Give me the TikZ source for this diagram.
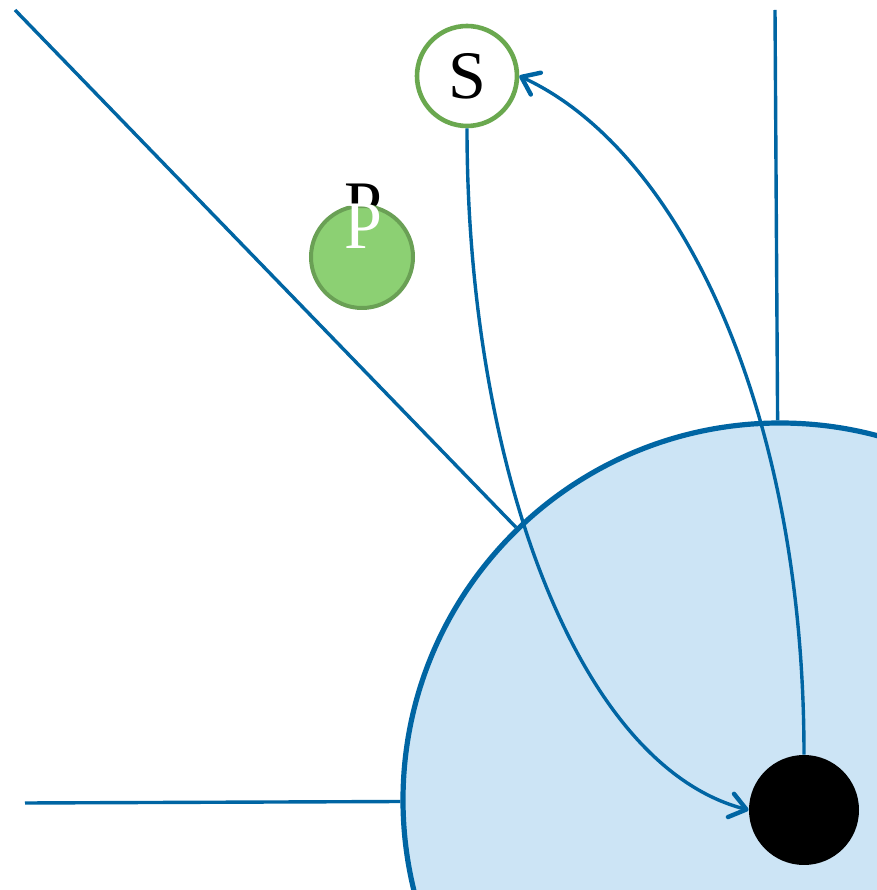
\documentclass[tikz,border=0pt]{standalone}
\usepackage{fontspec}
\setmainfont{Liberation Serif}
\usepackage{xcolor}
\usepackage{tikz}
\usetikzlibrary{arrows.meta, positioning}

\definecolor{lineblue}{RGB}{0,101,163}
\definecolor{fieldblue}{RGB}{204,228,245}
\definecolor{sgreen}{RGB}{106,168,79}
\definecolor{pfill}{RGB}{140,208,115}
\definecolor{pedge}{RGB}{106,160,85}

\begin{document}
\begin{tikzpicture}[x=0.5pt, y=0.5pt,
    ray/.style={lineblue, line width=1.7pt},
    orbit/.style={lineblue, line width=1.7pt,
      -{Straight Barb[length=8pt,width=12pt,round,line width=2.2pt]}},
    letter/.style={font=\fontsize{34}{40}\selectfont, inner sep=0pt}
  ]
    \useasboundingbox (0,0) rectangle (877,890);
    \clip (0,0) rectangle (877,890);

    % Field: large disc, cut off by the page edge
    \node[circle, fill=fieldblue, draw=lineblue, line width=2.6pt,
          minimum size=377pt, inner sep=0pt] (field) at (780,90) {};

    % Radial lines ending on the disc
    \coordinate (rayleft) at (25,87);
    \coordinate (raydiag) at (15,880);
    \coordinate (raytop) at (775,880);
    \draw[ray] (rayleft) -- (field);
    \draw[ray] (raydiag) -- (field);
    \draw[ray] (raytop) -- (field);

    % Centre body
    \node[circle, fill=black, minimum size=55pt, inner sep=0pt] (body) at (804,80) {};

    % Node S
    \node[circle, fill=white, draw=sgreen, line width=2.3pt,
          minimum size=50pt, inner sep=0pt, letter] (s) at (467,814) {S};

    % Node P (black label sits behind the disc)
    \node[letter] (plabel) at (363,684) {P};
    \node[circle, fill=pfill, draw=pedge, line width=2pt,
          minimum size=51pt, inner sep=0pt] (p) at (362,633) {};
    \node[letter, text=white] (ptext) at (363,664) {P};

    % Paths between S and the body
    \draw[orbit] (s.south) .. controls (467,430) and (575,125) .. (body.west);
    \draw[orbit] (body.north) .. controls (804,480) and (680,740) .. (s.east);
\end{tikzpicture}
\end{document}
